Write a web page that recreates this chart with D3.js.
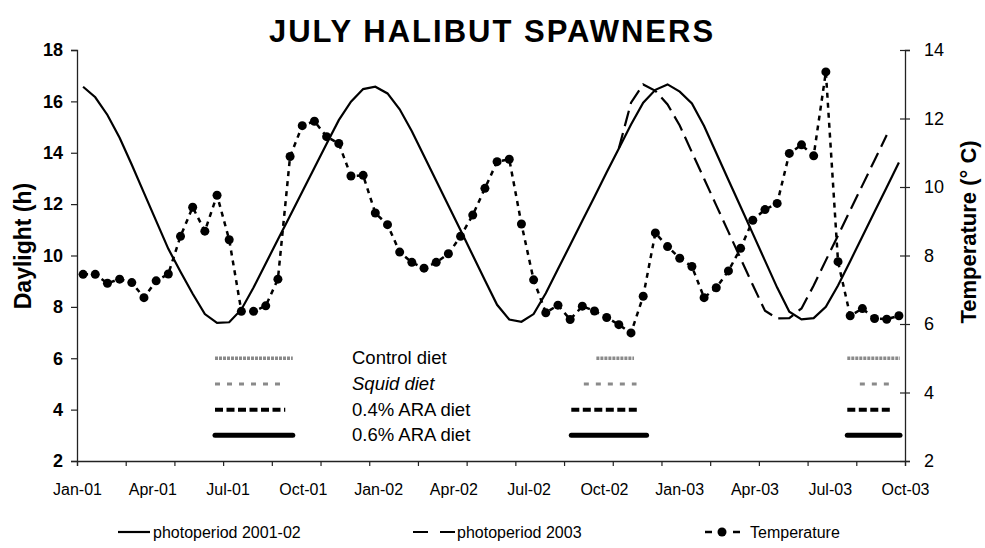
<!DOCTYPE html>
<html>
<head>
<meta charset="utf-8">
<script src="https://d3js.org/d3.v7.min.js"></script>
<style>
  body { margin: 0; background: #fff; }
  text { font-family: Arial, "Liberation Sans", sans-serif; fill: #000; }
</style>
</head>
<body>
<div id="chart"></div>
<script>
// x labels (months since Jan-01, every 3 months)
var monthLabels = ["Jan-01","Apr-01","Jul-01","Oct-01","Jan-02","Apr-02","Jul-02","Oct-02","Jan-03","Apr-03","Jul-03","Oct-03"];
var daylightTicks = [2,4,6,8,10,12,14,16,18];
var tempTicks = [2,4,6,8,10,12,14];

// 68 semi-monthly samples, Jan-01 .. Oct-03
var photo0102 = [16.57,16.16,15.47,14.58,13.53,12.44,11.35,10.26,9.37,8.51,7.72,7.38,7.40,7.90,8.75,9.69,
  10.62,11.55,12.48,13.42,14.35,15.27,15.99,16.48,16.57,16.31,15.69,14.84,13.87,12.91,11.95,10.98,10.01,9.04,
  8.08,7.51,7.42,7.72,8.53,9.47,10.41,11.35,12.29,13.24,14.17,15.10,15.95,16.45,16.66,16.38,15.92,15.04,13.99,
  12.94,11.90,10.85,9.80,8.75,7.81,7.51,7.56,8.00,8.83,9.78,10.74,11.70,12.66,13.62];
// photoperiod 2003 starts at sample 44
var photo2003Start = 44;
var photo2003 = [14.17,15.95,16.66,16.41,15.88,15.06,14.02,12.99,11.95,10.92,9.88,8.85,7.85,7.55,7.56,7.94,
  8.83,9.81,10.78,11.76,12.73,13.71,14.69];
var temperature = [7.45,7.45,7.19,7.31,7.21,6.77,7.26,7.46,8.56,9.41,8.71,9.76,8.46,6.37,6.37,6.53,7.31,10.89,
  11.79,11.92,11.47,11.27,10.32,10.34,9.24,8.90,8.10,7.80,7.63,7.80,8.05,8.56,9.18,9.96,10.74,10.81,8.92,7.29,
  6.33,6.55,6.13,6.52,6.38,6.19,5.98,5.74,6.81,8.66,8.26,7.92,7.68,6.77,7.06,7.55,8.21,9.03,9.34,9.52,10.98,
  11.23,10.91,13.36,7.82,6.24,6.45,6.16,6.14,6.24];

// diet feeding periods, in months since Jan-01 (three periods each)
var dietNames = ["Control diet","Squid diet","0.4% ARA diet","0.6% ARA diet"];
var dietStart = [[5.5,20.7,30.7],[5.5,20.2,31.2],[5.5,19.7,30.7],[5.5,19.7,30.7]];
var dietEnd   = [[8.6,22.2,32.8],[8.3,22.3,32.5],[8.3,22.4,32.5],[8.6,22.7,32.8]];

var W = 985, H = 548;
var plotLeft = 77, plotRight = 905, plotTop = 50, plotBottom = 461;

var svg = d3.select("#chart").append("svg").attr("width", W).attr("height", H);

var xM = d3.scaleLinear().domain([0, 33]).range([plotLeft, plotRight]);
var xI = d3.scaleLinear().domain([-0.5, 67.5]).range([plotLeft, plotRight]);
var yL = d3.scaleLinear().domain([2, 18]).range([plotBottom, plotTop]);
var yR = d3.scaleLinear().domain([2, 14]).range([plotBottom, plotTop]);

// title
svg.append("text").attr("x", 492).attr("y", 42).attr("text-anchor", "middle")
  .style("font-size", "31px").style("font-weight", "bold").style("letter-spacing", "2px")
  .text("JULY HALIBUT SPAWNERS");

// axes
var gL = svg.append("g").attr("transform", "translate(" + plotLeft + ",0)")
  .call(d3.axisLeft(yL).tickValues(daylightTicks).tickSize(6).tickPadding(8));
gL.selectAll("text").style("font-size", "18px").style("font-weight", "bold");

var gR = svg.append("g").attr("transform", "translate(" + plotRight + ",0)")
  .call(d3.axisRight(yR).tickValues(tempTicks).tickSize(5).tickPadding(14));
gR.selectAll("line").attr("x1", -5);
gR.selectAll("text").style("font-size", "18px");

var gB = svg.append("g").attr("transform", "translate(0," + plotBottom + ")")
  .call(d3.axisBottom(xI).tickValues(d3.range(-0.5, 68, 4)).tickSize(5).tickFormat(""));
var gBL = svg.append("g").attr("transform", "translate(0," + plotBottom + ")")
  .call(d3.axisBottom(xM).tickValues(d3.range(0, 34, 3)).tickSize(0).tickPadding(23)
    .tickFormat(function (d, i) { return monthLabels[i]; }));
gBL.select(".domain").remove();
gBL.selectAll("text").style("font-size", "16px");

svg.selectAll(".domain").attr("stroke", "#222").attr("stroke-width", 1.3);
svg.selectAll(".tick line").attr("stroke", "#222").attr("stroke-width", 1.2);

// axis titles
svg.append("text").attr("transform", "translate(31,246) rotate(-90)").attr("text-anchor", "middle")
  .style("font-size", "23px").style("font-weight", "bold").text("Daylight (h)");
svg.append("text").attr("transform", "translate(976,232) rotate(-90)").attr("text-anchor", "middle")
  .style("font-size", "22px").style("font-weight", "bold").text("Temperature (\u00B0 C)");

// photoperiod lines
var lineL = d3.line().x(function (d) { return xI(d[0]); }).y(function (d) { return yL(d[1]); });
svg.append("path")
  .attr("d", lineL(photo0102.map(function (v, i) { return [i, v]; })))
  .attr("fill", "none").attr("stroke", "#000").attr("stroke-width", 2.2);
svg.append("path")
  .attr("d", lineL(photo2003.map(function (v, i) { return [i + photo2003Start, v]; })))
  .attr("fill", "none").attr("stroke", "#000").attr("stroke-width", 2.2)
  .attr("stroke-dasharray", "16,7");

// temperature
var lineT = d3.line().x(function (d, i) { return xI(i); }).y(function (d) { return yR(d); });
svg.append("path").attr("d", lineT(temperature))
  .attr("fill", "none").attr("stroke", "#000").attr("stroke-width", 2.5)
  .attr("stroke-dasharray", "5,5");
svg.selectAll("circle.temp").data(temperature).enter().append("circle")
  .attr("class", "temp")
  .attr("cx", function (d, i) { return xI(i); })
  .attr("cy", function (d) { return yR(d); })
  .attr("r", 4.5).attr("fill", "#000");

// diet periods
var dietLevel = [6, 5, 4, 3];
var dietStyle = [
  {stroke: "#8a8a8a", width: 3.5, dash: "3,1"},
  {stroke: "#8a8a8a", width: 3, dash: "5,7"},
  {stroke: "#000", width: 4, dash: "8,3.5"},
  {stroke: "#000", width: 5, dash: null}
];
dietNames.forEach(function (name, k) {
  for (var j = 0; j < dietStart[k].length; j++) {
    var ln = svg.append("line")
      .attr("x1", xM(dietStart[k][j])).attr("x2", xM(dietEnd[k][j]))
      .attr("y1", yL(dietLevel[k])).attr("y2", yL(dietLevel[k]))
      .attr("stroke", dietStyle[k].stroke).attr("stroke-width", dietStyle[k].width);
    if (dietStyle[k].dash) ln.attr("stroke-dasharray", dietStyle[k].dash);
    if (k == 3) ln.attr("stroke-linecap", "round");
  }
  var t = svg.append("text").attr("x", 352).attr("y", yL(dietLevel[k]) + 6)
    .style("font-size", "18.5px");
  if (k == 1) {
    t.style("font-style", "italic").text(name);
  } else {
    t.text(name);
  }
});

// bottom legend
var ly = 532;
svg.append("line").attr("x1", 118).attr("x2", 150).attr("y1", ly).attr("y2", ly)
  .attr("stroke", "#000").attr("stroke-width", 2.2);
svg.append("text").attr("x", 153).attr("y", ly + 6).style("font-size", "16px").text("photoperiod 2001-02");
svg.append("line").attr("x1", 413).attr("x2", 455).attr("y1", ly).attr("y2", ly)
  .attr("stroke", "#000").attr("stroke-width", 2.2).attr("stroke-dasharray", "15,12");
svg.append("text").attr("x", 457).attr("y", ly + 6).style("font-size", "16px").text("photoperiod 2003");
svg.append("line").attr("x1", 705).attr("x2", 740).attr("y1", ly).attr("y2", ly)
  .attr("stroke", "#000").attr("stroke-width", 2.5).attr("stroke-dasharray", "7,21");
svg.append("circle").attr("cx", 722).attr("cy", ly).attr("r", 4.5).attr("fill", "#000");
svg.append("text").attr("x", 750).attr("y", ly + 6).style("font-size", "16px").text("Temperature");
</script>
</body>
</html>
